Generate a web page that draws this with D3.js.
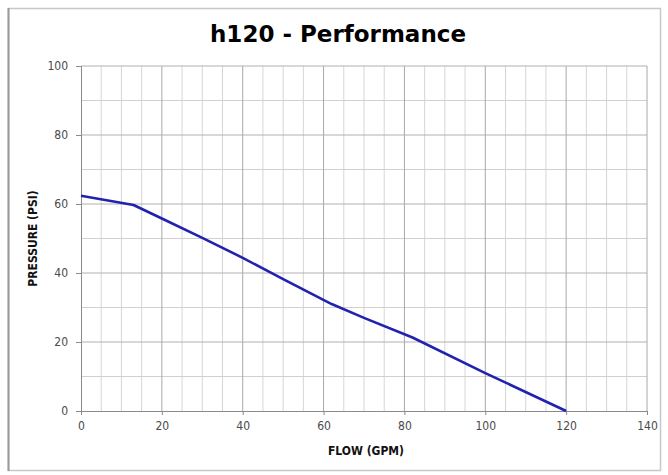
<!DOCTYPE html>
<html>
<head>
<meta charset="utf-8">
<script src="https://cdn.jsdelivr.net/npm/d3@7"></script>
<style>
  body { margin: 0; background: #fff; }
  svg { display: block; }
</style>
</head>
<body>
<div id="chart"></div>
<script>
// h120 pump performance curve
const chartTitle = "h120 - Performance";
const xTitle = "FLOW (GPM)";
const yTitle = "PRESSURE (PSI)";

const flow = [0, 13, 20, 30, 40, 50, 62, 70, 82, 100, 120];
const pressure = [62.4, 59.7, 55.8, 50.2, 44.4, 38.2, 31.0, 27.0, 21.3, 11.0, 0];

const xTicks = [0, 20, 40, 60, 80, 100, 120, 140];
const yTicks = [0, 20, 40, 60, 80, 100];

const width = 668, height = 475;
const margin = { left: 81, right: 21, top: 66, bottom: 64 };

const svg = d3.select("#chart").append("svg")
  .attr("width", width)
  .attr("height", height);

// outer frame
svg.append("rect")
  .attr("x", 8.5).attr("y", 8.5)
  .attr("width", 652).attr("height", 462)
  .attr("fill", "#fff")
  .attr("stroke", "#c8c8c8")
  .attr("stroke-width", 1.5);
svg.append("line")
  .attr("x1", 8.5).attr("x2", 8.5).attr("y1", 8).attr("y2", 471)
  .attr("stroke", "#9a9a9a").attr("stroke-width", 2);

const x = d3.scaleLinear().domain([0, 140]).range([margin.left, width - margin.right]);
const y = d3.scaleLinear().domain([0, 100]).range([height - margin.bottom, margin.top]);

// grid
const g = svg.append("g");
g.selectAll("line.vminor")
  .data(d3.range(5, 140, 5).filter(v => v % 20 !== 0))
  .join("line")
  .attr("class", "vminor")
  .attr("x1", d => x(d)).attr("x2", d => x(d))
  .attr("y1", y(100)).attr("y2", y(0))
  .attr("stroke", "#d6d6d6").attr("stroke-width", 1);
g.selectAll("line.hminor")
  .data(d3.range(10, 100, 20))
  .join("line")
  .attr("class", "hminor")
  .attr("x1", x(0)).attr("x2", x(140))
  .attr("y1", d => y(d)).attr("y2", d => y(d))
  .attr("stroke", "#d0d0d0").attr("stroke-width", 1);
g.selectAll("line.vmajor")
  .data(xTicks.slice(1))
  .join("line")
  .attr("class", "vmajor")
  .attr("x1", d => x(d)).attr("x2", d => x(d))
  .attr("y1", y(100)).attr("y2", y(0))
  .attr("stroke", "#a8a8a8").attr("stroke-width", 1);
g.selectAll("line.hmajor")
  .data(yTicks.slice(1))
  .join("line")
  .attr("class", "hmajor")
  .attr("x1", x(0)).attr("x2", x(140))
  .attr("y1", d => y(d)).attr("y2", d => y(d))
  .attr("stroke", "#b0b0b0").attr("stroke-width", 1);

// axes
const narrow = "'Liberation Sans Narrow', 'DejaVu Sans Condensed', sans-serif";
const xAxis = svg.append("g")
  .attr("transform", `translate(0,${y(0)})`)
  .call(d3.axisBottom(x).tickValues(xTicks).tickSize(4).tickPadding(6));
const yAxis = svg.append("g")
  .attr("transform", `translate(${x(0)},0)`)
  .call(d3.axisLeft(y).tickValues(yTicks).tickSize(5).tickPadding(8));
[xAxis, yAxis].forEach(a => {
  a.select(".domain").attr("stroke", "#8a8a8a");
  a.selectAll(".tick line").attr("stroke", "#8a8a8a");
  a.selectAll(".tick text")
    .attr("fill", "#4a4a4a")
    .style("font-family", narrow)
    .style("font-size", "12px");
});

// curve
const line = d3.line()
  .x((d, i) => x(flow[i]))
  .y(d => y(d));
svg.append("path")
  .datum(pressure)
  .attr("d", line)
  .attr("fill", "none")
  .attr("stroke", "#2222b0")
  .attr("stroke-width", 2.6)
  .attr("stroke-linejoin", "round");

// titles
svg.append("text")
  .attr("x", 338).attr("y", 42)
  .attr("text-anchor", "middle")
  .style("font-family", "'DejaVu Sans', sans-serif")
  .style("font-weight", "900")
  .style("font-size", "23px")
  .attr("fill", "#000")
  .text(chartTitle);

svg.append("text")
  .attr("x", 366).attr("y", 455)
  .attr("text-anchor", "middle")
  .style("font-family", narrow)
  .style("font-weight", "bold")
  .style("font-size", "12px")
  .attr("fill", "#111")
  .text(xTitle);
svg.append("text")
  .attr("transform", `translate(37,${(y(0) + y(100)) / 2}) rotate(-90)`)
  .attr("text-anchor", "middle")
  .style("font-family", narrow)
  .style("font-weight", "bold")
  .style("font-size", "12px")
  .attr("fill", "#111")
  .text(yTitle);
</script>
</body>
</html>
